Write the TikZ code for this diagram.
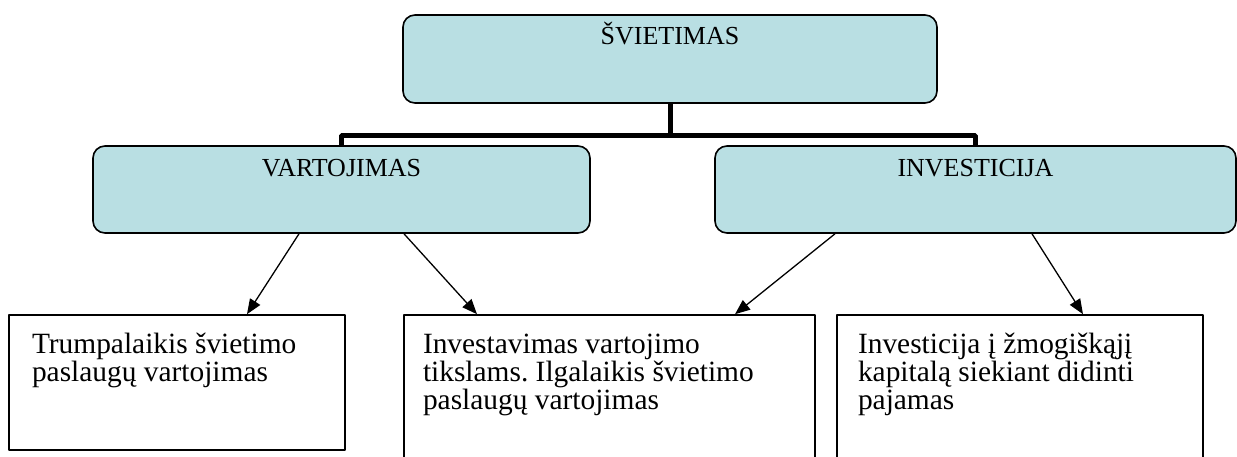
\documentclass[tikz,border=0pt]{standalone}
\usepackage{fontspec}
\setmainfont{Liberation Serif}
\usepackage{xcolor}
\definecolor{paleteal}{RGB}{185,223,227}
\usetikzlibrary{arrows.meta, positioning}
\frenchspacing

\begin{document}
\begin{tikzpicture}[
            line join=bevel,
            headbox/.style={shape=rectangle, rounded corners=12pt, fill=paleteal, draw=black, line width=1.6pt, inner ysep=0pt, font=\fontsize{26}{26}\selectfont},
            leafbox/.style={shape=rectangle, draw=black, line width=1.6pt, inner sep=0pt, text height=38pt, font=\fontsize{29.4}{28.3}\selectfont},
            treeline/.style={line width=5pt},
            leafarrow/.style={line width=1.3pt, -{Triangle[length=15pt, width=12pt]}}
            ]

            \useasboundingbox (0pt, 0pt) rectangle (1237pt, -457pt);

            % Top level
            \node[headbox, minimum width=534pt, text height=30pt, text depth=58pt] (svietimas) at (670pt, -59pt) {ŠVIETIMAS};

            % Second level
            \node[headbox, minimum width=497pt, text height=31pt, text depth=56pt] (vartojimas) at (341.5pt, -189.5pt) {VARTOJIMAS};
            \node[headbox, minimum width=521pt, text height=31pt, text depth=56pt] (investicija) at (975.5pt, -189.5pt) {INVESTICIJA};

            % Tree connector
            \draw[treeline] (svietimas.south) -- ++(0pt, -32pt) coordinate (split) -| (vartojimas.north);
            \draw[treeline] (split) -| (investicija.north);

            % Bottom boxes
            \node[leafbox, minimum width=336pt, text depth=97pt] (trumpalaikis) at (177pt, -382.5pt)
                {\parbox[t]{290pt}{\raggedright Trumpalaikis švietimo\\paslaugų vartojimas}};
            \node[leafbox, minimum width=411pt, text depth=122pt] (ilgalaikis) at (609.5pt, -395pt)
                {\parbox[t]{373pt}{\raggedright Investavimas vartojimo\\tikslams. Ilgalaikis švietimo\\paslaugų vartojimas}};
            \node[leafbox, minimum width=366pt, text depth=122pt] (kapitalas) at (1020pt, -395pt)
                {\parbox[t]{324pt}{\raggedright Investicija į žmogiškąjį\\kapitalą siekiant didinti\\pajamas}};

            % Arrows
            \draw[leafarrow] ([xshift=-42.5pt]vartojimas.south) -- ([xshift=70pt]trumpalaikis.north);
            \draw[leafarrow] ([xshift=62.5pt]vartojimas.south) -- ([xshift=-132.5pt]ilgalaikis.north);
            \draw[leafarrow] ([xshift=-140.5pt]investicija.south) -- ([xshift=125.5pt]ilgalaikis.north);
            \draw[leafarrow] ([xshift=56.5pt]investicija.south) -- ([xshift=63pt]kapitalas.north);
\end{tikzpicture}
\end{document}
